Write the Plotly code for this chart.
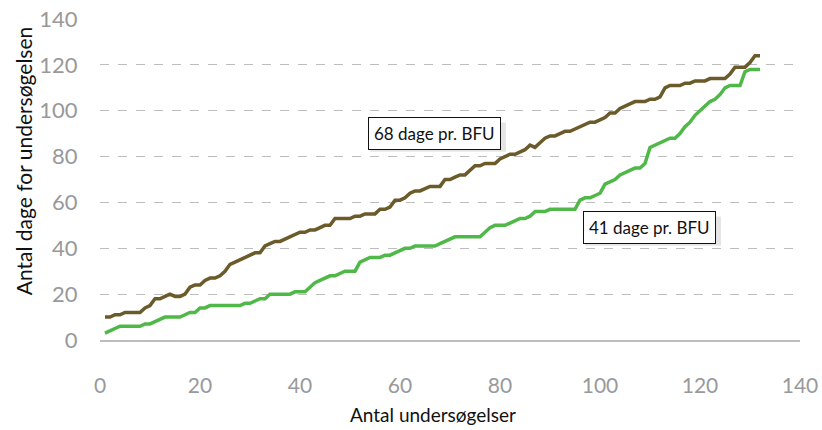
import plotly.graph_objects as go

x_vals = list(range(1, 133))

brown_days = [10, 10, 11, 11, 12, 12, 12, 12, 14, 15,
              18, 18, 19, 20, 19, 19, 20, 23, 24, 24,
              26, 27, 27, 28, 30, 33, 34, 35, 36, 37,
              38, 38, 41, 42, 43, 43, 44, 45, 46, 47,
              47, 48, 48, 49, 50, 50, 53, 53, 53, 53,
              54, 54, 55, 55, 55, 57, 57, 58, 61, 61,
              62, 64, 65, 65, 66, 67, 67, 67, 70, 70,
              71, 72, 72, 74, 76, 76, 77, 77, 77, 79,
              80, 81, 81, 82, 83, 85, 84, 86, 88, 89,
              89, 90, 91, 91, 92, 93, 94, 95, 95, 96,
              97, 99, 99, 101, 102, 103, 104, 104, 104, 105,
              105, 106, 110, 111, 111, 111, 112, 112, 113, 113,
              113, 114, 114, 114, 114, 116, 119, 119, 119, 121,
              124, 124]

green_days = [3, 4, 5, 6, 6, 6, 6, 6, 7, 7,
              8, 9, 10, 10, 10, 10, 11, 12, 12, 14,
              14, 15, 15, 15, 15, 15, 15, 15, 16, 16,
              17, 18, 18, 20, 20, 20, 20, 20, 21, 21,
              21, 23, 25, 26, 27, 28, 28, 29, 30, 30,
              30, 34, 35, 36, 36, 36, 37, 37, 38, 39,
              40, 40, 41, 41, 41, 41, 41, 42, 43, 44,
              45, 45, 45, 45, 45, 45, 47, 49, 50, 50,
              50, 51, 52, 53, 53, 54, 56, 56, 56, 57,
              57, 57, 57, 57, 57, 61, 62, 62, 63, 64,
              68, 69, 70, 72, 73, 74, 75, 75, 77, 84,
              85, 86, 87, 88, 88, 90, 93, 95, 98, 100,
              102, 104, 105, 107, 110, 111, 111, 111, 117, 118,
              118, 118]

x_ticks = [0, 20, 40, 60, 80, 100, 120, 140]
y_ticks = [0, 20, 40, 60, 80, 100, 120, 140]

labels = ["68 dage pr. BFU", "41 dage pr. BFU"]
label_x = [66.8, 109.8]
label_y = [90, 49]

FONT = "Lato"

fig = go.Figure()
fig.add_trace(go.Scatter(x=x_vals, y=brown_days, mode="lines",
                         line=dict(color="#6B5B2A", width=3.5), showlegend=False))
fig.add_trace(go.Scatter(x=x_vals, y=green_days, mode="lines",
                         line=dict(color="#50B848", width=3.5), showlegend=False))

# soft drop shadow behind each label box (style only)
half_w, half_h = 13.6, 6.4
for ax_, ay_ in zip(label_x, label_y):
    fig.add_shape(type="rect", xref="x", yref="y",
                  x0=ax_ - half_w + 0.8, x1=ax_ + half_w + 0.8,
                  y0=ay_ - half_h - 1.5, y1=ay_ + half_h - 1.5,
                  fillcolor="rgba(0,0,0,0.10)", line=dict(width=0), layer="above")

annotations = []
for t, ax_, ay_ in zip(labels, label_x, label_y):
    annotations.append(dict(x=ax_, y=ay_, xref="x", yref="y", text=t, showarrow=False,
                            font=dict(family=FONT, size=17, color="#111111"),
                            bgcolor="white", bordercolor="#111111",
                            borderwidth=1, borderpad=5))

annotations.append(dict(x=0.476, y=-0.232, xref="paper", yref="paper",
                        text="Antal undersøgelser", showarrow=False,
                        font=dict(family=FONT, size=19, color="#111111"),
                        xanchor="center", yanchor="middle"))
annotations.append(dict(x=-0.11, y=0.557, xref="paper", yref="paper",
                        text="Antal dage for undersøgelsen", showarrow=False, textangle=-90,
                        font=dict(family=FONT, size=21, color="#111111"),
                        xanchor="center", yanchor="middle"))

fig.update_layout(
    width=822, height=430,
    margin=dict(l=100, r=22, t=19, b=90, autoexpand=False),
    paper_bgcolor="white", plot_bgcolor="white",
    font=dict(family=FONT),
    annotations=annotations,
    hovermode=False,
)
fig.update_xaxes(range=[0, 140], tickvals=x_ticks, showgrid=False, zeroline=False,
                 showline=True, linecolor="#BDBDBD", linewidth=1.5,
                 ticks="outside", ticklen=26, tickcolor="rgba(0,0,0,0)",
                 tickfont=dict(family=FONT, size=21, color="#999999"))
fig.update_yaxes(range=[0, 140], tickvals=y_ticks, showgrid=True, gridcolor="#BDBDBD",
                 griddash="dash", gridwidth=1, zeroline=False, showline=False,
                 ticks="outside", ticklen=17, tickcolor="rgba(0,0,0,0)",
                 tickfont=dict(family=FONT, size=22, color="#999999"))

fig.write_html("out.html", config={"displayModeBar": False},
               post_script="document.body.style.margin='0';document.body.style.overflow='hidden';")
